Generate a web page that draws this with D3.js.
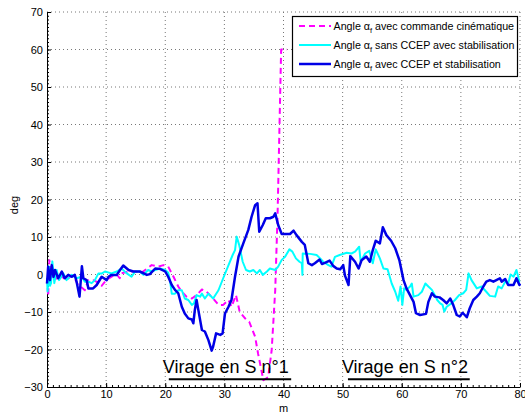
<!DOCTYPE html>
<html><head><meta charset="utf-8">
<script src="https://cdn.jsdelivr.net/npm/d3@7"></script>
<style>body{margin:0;background:#fff}text{font-family:"Liberation Sans",Arial,sans-serif}</style>
</head><body><svg id="c" width="525" height="414"></svg>
<script>
const xTicks=[0,10,20,30,40,50,60,70,80];
const yTicks=[-30,-20,-10,0,10,20,30,40,50,60,70];
const seriesNames=["avec commande cinématique","sans CCEP avec stabilisation","avec CCEP et stabilisation"];
const cinematique=[[0,-1],[0.2,-5.8],[0.4,3.8],[0.7,-1],[1.2,0.5],[1.8,-1.5],[2.5,-0.5],[3.2,-1.5],[4,-0.5],[4.7,-1.0],[5.3,-3.0],[5.9,-3.5],[6.4,-4.2],[7.0,-1.5],[7.8,-1.5],[8.5,-2.0],[9.25,-3.0],[10,-1.5],[11,-0.5],[11.8,0.0],[12.3,-1.0],[12.6,0.3],[13.8,0.8],[14.9,0.8],[16.0,0.5],[16.6,1.2],[17.7,2.5],[18.8,2.1],[19.7,2.5],[20.5,2.1],[21.4,-0.6],[22.2,-3.2],[22.8,-4.6],[23.6,-5.9],[24.5,-6.4],[25.3,-5.5],[26.2,-4.0],[27.0,-4.6],[28.1,-6.4],[29.0,-8.1],[29.8,-8.1],[30.7,-6.8],[31.2,-8.6],[31.96,-5.5],[32.6,-10.0],[33.5,-11.7],[34.2,-12.6],[35.2,-16.6],[35.7,-21.1],[36.6,-28.2],[37.4,-27.4],[38.0,-20.2],[38.6,-4.2],[39.0,16],[39.6,60],[40.6,60]];
const sansCCEP=[[0,-1],[0.1,-4.5],[0.34,2.1],[0.5,-3],[0.68,-2.3],[0.9,3.5],[1.24,-2.3],[1.63,1.2],[2.03,-1.5],[2.76,0.3],[3.3,-1.5],[4.17,-0.1],[5.0,-1.0],[5.86,-0.6],[6.4,-1.9],[7.0,-1.9],[7.55,-2.3],[8.1,-1.5],[8.7,0.3],[9.3,0.3],[9.8,0.8],[10.9,0.3],[11.8,0.8],[12.6,1.6],[13.5,0.3],[14.3,-0.6],[14.9,0.8],[15.7,0.8],[16.3,-0.1],[17.1,1.2],[17.7,0.8],[18.3,1.2],[19.1,1.6],[20.0,1.2],[20.5,0.5],[20.8,-1.5],[21.1,-5.1],[21.65,-5.1],[22.2,-4.2],[22.8,-4.2],[23.3,-6.4],[23.9,-6.8],[24.5,-8.1],[24.86,-7.7],[25.3,-5.5],[25.9,-5.9],[26.2,-5.1],[26.7,-6.4],[27.3,-5.1],[28.1,-6.4],[29.0,-4.2],[29.8,-1.0],[30.7,2.5],[31.4,5.2],[31.8,6.5],[32.08,10.1],[32.5,7.9],[33.1,3.4],[33.66,1.2],[34.3,0.8],[34.9,1.2],[35.5,0.3],[36.0,1.2],[36.5,-0.1],[37.2,0.8],[37.7,1.6],[38.6,1.2],[39.1,2.1],[39.7,3.9],[40.25,4.7],[41.0,6.7],[41.5,6.1],[42.1,4.3],[42.7,3.4],[43.1,3.0],[43.2,-0.1],[43.25,5.6],[44.5,5.5],[45.6,5.2],[46.2,4.3],[46.7,3.4],[47.6,2.5],[48.1,2.1],[48.7,4.7],[49.5,5.2],[50.7,5.8],[51.5,5.6],[52.1,6.1],[52.8,7.4],[53.05,3.4],[53.8,5.6],[54.5,6.3],[55.1,3.0],[55.6,6.7],[56.3,4.3],[56.9,1.6],[57.6,1.4],[58.3,-2.4],[58.9,-4.6],[59.4,-7.0],[59.8,-3.2],[60.1,-8.1],[60.4,-3.7],[60.8,-4.1],[61.4,-3.2],[61.7,-2.4],[62.0,-5.9],[62.8,-5.5],[63.4,-4.6],[64.0,-2.4],[64.5,-3.2],[65.1,-4.1],[65.6,-5.5],[66.0,-6.8],[66.5,-7.7],[66.9,-8.1],[67.2,-9.9],[67.6,-8.6],[68.4,-7.7],[69.0,-6.8],[69.7,-5.5],[70.4,-5.0],[70.9,-4.1],[71.3,0.3],[71.8,-1.5],[72.7,-3.7],[73.5,-3.2],[74.3,-4.6],[74.9,-5.7],[75.8,-5.9],[76.3,-3.2],[76.9,-3.7],[77.5,-1.9],[78.0,-2.4],[78.4,0],[78.9,-0.6],[79.4,1.2],[79.9,-1.9],[80,-1.9]];
const avecCCEP=[[0,-2.4],[0.2,2.1],[0.5,-1.5],[0.8,2.5],[1.1,-0.6],[1.35,1.2],[1.9,-1.0],[2.5,0.8],[3.0,-1.0],[3.6,-0.1],[4.2,-0.6],[4.7,-0.1],[5.0,-1.9],[5.5,-5.9],[5.9,2.2],[6.15,-1.0],[6.7,-1.5],[7.0,-3.7],[7.8,-3.7],[8.4,-2.8],[9.25,-0.6],[10.1,-1.5],[10.4,-0.6],[10.9,-0.1],[11.8,-0.1],[12.35,1.2],[12.9,2.4],[13.8,1.2],[14.6,0.8],[15.7,0.8],[16.9,-0.1],[17.4,0.1],[18.3,1.6],[19.1,1.5],[20.0,0.8],[20.5,-0.6],[21.1,-2.8],[21.65,-4.1],[22.2,-5.0],[22.5,-6.8],[22.8,-8.6],[23.3,-10.4],[23.9,-11.7],[24.5,-12.0],[24.75,-13.0],[25.0,-9.5],[25.3,-6.8],[25.6,-9.5],[26.2,-14.8],[26.7,-15.2],[27.3,-17.5],[27.85,-20.3],[28.1,-19.2],[28.6,-15.7],[29.3,-16.1],[29.7,-15.7],[30.1,-10.4],[30.7,-8.6],[31.2,-6.8],[31.8,-0.6],[32.4,4.8],[33.2,8.3],[34.05,11.9],[34.6,15.4],[35.2,18.5],[35.6,19.0],[35.9,11.4],[36.5,13.2],[37.0,15.0],[37.7,15.0],[38.3,15.4],[38.6,16.3],[39.1,13.2],[39.7,10.8],[41.1,10.8],[41.7,11.7],[42.2,10.5],[43.1,8.7],[43.6,7.9],[44.2,3.0],[44.8,2.5],[45.3,3.0],[46.1,4.0],[46.5,2.8],[47.0,3.1],[47.8,3.7],[48.4,2.3],[49.0,1.6],[49.6,1.4],[50.1,2.5],[50.4,-0.3],[51.0,-2.8],[51.3,4.9],[52.1,3.4],[52.7,1.6],[53.2,3.8],[54.0,4.8],[54.6,3.4],[55.1,6.5],[55.6,9.0],[56.3,8.3],[56.8,12.6],[57.4,10.5],[58.2,9.0],[58.9,7.0],[59.6,3.8],[60.3,-1.5],[60.8,-3.7],[61.4,-5.5],[62.0,-7.3],[62.4,-10.3],[63.1,-10.8],[64.1,-10.5],[64.5,-7.3],[65.1,-5.0],[65.6,-5.9],[66.4,-6.1],[67.0,-6.8],[67.6,-7.7],[68.2,-6.4],[68.7,-8.1],[69.3,-10.8],[69.8,-11.2],[70.3,-10.2],[71.0,-11.4],[71.5,-9.0],[72.1,-6.8],[72.7,-5.9],[73.2,-5.0],[73.8,-3.2],[74.3,-1.9],[74.9,-1.5],[75.5,-1.9],[76.0,-1.5],[76.6,-1.0],[76.9,-1.9],[77.5,-1.2],[78.0,-2.8],[78.9,-2.8],[79.4,-1.0],[79.9,-2.8],[80,-2.4]];
const annotations=[{label:"Virage en S n°1",start:20.6,end:41.3},{label:"Virage en S n°2",start:50.9,end:71.5}];

const svg=d3.select("#c");
const L=47,R=520,T=12,B=387;
const x=d3.scaleLinear().domain([0,80]).range([L,R]);
const y=d3.scaleLinear().domain([-30,70]).range([B,T]);

// grid
const g=svg.append("g");
g.selectAll(".gx").data(xTicks.slice(1)).join("line")
 .attr("x1",d=>x(d)).attr("x2",d=>x(d)).attr("y1",T).attr("y2",B)
 .attr("stroke","#777").attr("stroke-width",1).attr("stroke-dasharray","1,3");
g.selectAll(".gy").data(yTicks.slice(1)).join("line")
 .attr("x1",L).attr("x2",R).attr("y1",d=>y(d)).attr("y2",d=>y(d))
 .attr("stroke","#777").attr("stroke-width",1).attr("stroke-dasharray","1,3");

// axes
const xAxis=d3.axisBottom(x).tickValues(xTicks).tickSizeInner(-4).tickSizeOuter(0).tickPadding(3).tickFormat(d3.format("d"));
const yAxis=d3.axisLeft(y).tickValues(yTicks).tickSizeInner(-4).tickSizeOuter(0).tickPadding(4).tickFormat(d=>d<0?"\u2212"+Math.abs(d):d);
const ax=svg.append("g").attr("transform",`translate(0,${B})`).call(xAxis);
const ay=svg.append("g").attr("transform",`translate(${L},0)`).call(yAxis);
[ax,ay].forEach(a=>{a.select(".domain").attr("stroke","#000");a.selectAll("text").attr("font-size",11).attr("fill","#000").attr("font-family","Liberation Sans, Arial");a.selectAll(".tick line").attr("stroke","#000");});
// minor ticks
svg.append("g").attr("transform",`translate(0,${B})`).call(d3.axisBottom(x).ticks(80).tickSizeInner(-2).tickSizeOuter(0).tickFormat("")).call(a=>{a.select(".domain").remove();a.selectAll("line").attr("stroke","#000");});
svg.append("g").attr("transform",`translate(${L},0)`).call(d3.axisLeft(y).ticks(100).tickSizeInner(-2).tickSizeOuter(0).tickFormat("")).call(a=>{a.select(".domain").remove();a.selectAll("line").attr("stroke","#000");});

svg.append("text").attr("x",x(40)).attr("y",412).attr("text-anchor","middle").attr("font-size",11).text("m");
svg.append("text").attr("transform","translate(18,205) rotate(-90)").attr("text-anchor","middle").attr("font-size",11).text("deg");

const line=d3.line().x(d=>x(d[0])).y(d=>y(d[1]));
const styles=[{data:cinematique,color:"#ff00ff",w:2,dash:"6,4"},{data:sansCCEP,color:"#00ffff",w:2,dash:null},{data:avecCCEP,color:"#0000e6",w:2.5,dash:null}];
styles.forEach(s=>{svg.append("path").datum(s.data).attr("d",line).attr("fill","none").attr("stroke",s.color).attr("stroke-width",s.w).attr("stroke-linejoin","round").attr("stroke-dasharray",s.dash);});

// annotations
annotations.forEach(a=>{
 svg.append("text").attr("x",x(a.start)-6).attr("y",y(-26.3)).attr("font-size",18).text(a.label);
 svg.append("line").attr("x1",x(a.start)).attr("x2",x(a.end)).attr("y1",y(-27.9)).attr("y2",y(-27.9)).attr("stroke","#000").attr("stroke-width",2);
});

// legend
const lg=svg.append("g");
lg.append("rect").attr("x",292.5).attr("y",16.5).attr("width",225).attr("height",60).attr("fill","#fff").attr("stroke","#000").attr("stroke-width",1.2);
styles.forEach((s,i)=>{
 const yy=26+i*19;
 lg.append("line").attr("x1",299).attr("x2",331).attr("y1",yy).attr("y2",yy).attr("stroke",s.color).attr("stroke-width",s.w).attr("stroke-dasharray",s.dash);
 const t=lg.append("text").attr("x",333.5).attr("y",yy+4).attr("font-size",10.7);
 t.append("tspan").text("Angle \u03b1");
 t.append("tspan").attr("dy",3).attr("font-size",7.5).text("f");
 t.append("tspan").attr("dy",-3).text(" "+seriesNames[i]);
});
</script></body></html>
